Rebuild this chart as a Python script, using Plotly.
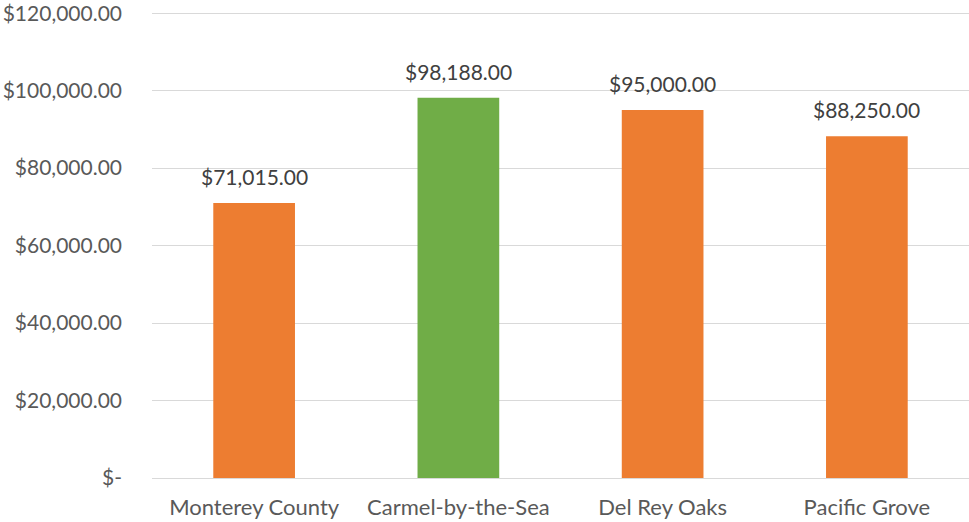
import plotly.graph_objects as go

categories = ["Monterey County", "Carmel-by-the-Sea", "Del Rey Oaks", "Pacific Grove"]
values = [71015, 98188, 95000, 88250]
colors = ["#ED7D31", "#70AD47", "#ED7D31", "#ED7D31"]
tick_vals = [0, 20000, 40000, 60000, 80000, 100000, 120000]
tick_text = ["$-", "$20,000.00", "$40,000.00", "$60,000.00", "$80,000.00", "$100,000.00", "$120,000.00"]

FONT = "Lato, Open Sans, sans-serif"

fig = go.Figure()
fig.add_trace(go.Bar(
    x=categories, y=values, marker=dict(color=colors, line=dict(width=0)),
    width=0.4, hoverinfo="skip",
))
for c, v in zip(categories, values):
    fig.add_annotation(x=c, y=v, text=f"${v:,.2f}", showarrow=False,
                       yanchor="bottom", yshift=12,
                       font=dict(family=FONT, size=21, color="#404040"))

fig.update_layout(
    width=969, height=522,
    margin=dict(l=152, r=0, t=12, b=44),
    paper_bgcolor="white", plot_bgcolor="white",
    showlegend=False,
    font=dict(family=FONT, size=21, color="#595959"),
    xaxis=dict(showgrid=False, showline=False, ticks="", automargin=False,
               ticklabelstandoff=14,
               tickfont=dict(size=22, color="#595959")),
    yaxis=dict(range=[0, 120300], tickvals=tick_vals, ticktext=tick_text,
               showgrid=True, gridcolor="#D9D9D9", gridwidth=1,
               zeroline=True, zerolinecolor="#D9D9D9", zerolinewidth=1,
               showline=False, ticks="", ticklabelstandoff=29, automargin=False,
               ticklabeloverflow="allow",
               tickfont=dict(size=21, color="#595959")),
)
fig.write_html("out.html", config={"displayModeBar": False},
               post_script="document.body.style.margin='0';document.body.style.overflow='hidden';")
